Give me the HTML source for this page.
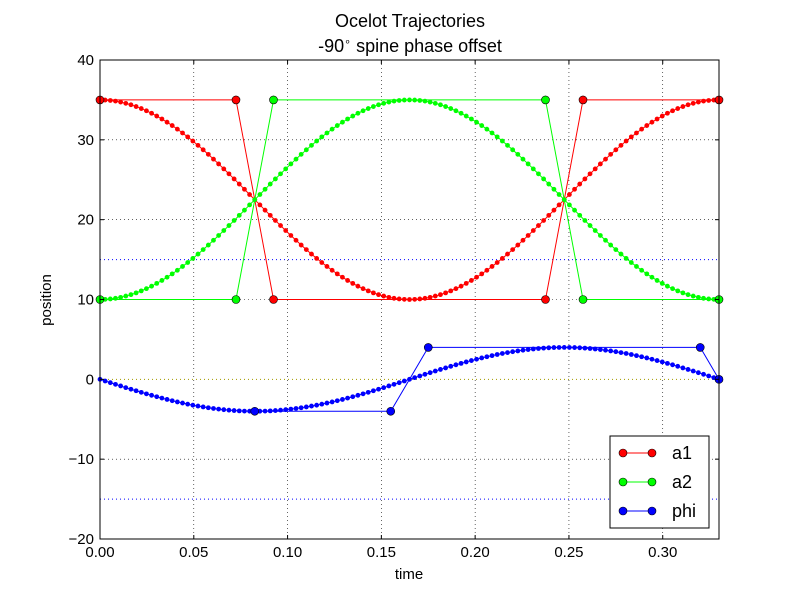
<!DOCTYPE html>
<html><head><meta charset="utf-8"><style>
body{margin:0;background:#fff;}
svg{display:block;font-family:"Liberation Sans",sans-serif;}
</style></head><body>
<svg id="chart" width="800" height="600"></svg>
<script>
const xTicks=[0,0.05,0.10,0.15,0.20,0.25,0.30];
const xTickLabels=["0.00","0.05","0.10","0.15","0.20","0.25","0.30"];
const yTicks=[-20,-10,0,10,20,30,40];
const yTickLabels=["\u221220","\u221210","0","10","20","30","40"];
const dt=0.00275;
const a1Curve=[35,34.98,34.93,34.85,34.73,34.57,34.39,34.17,33.92,33.64,33.33,32.98,32.61,32.21,31.79,31.34,30.86,30.37,29.85,29.31,28.75,28.18,27.58,26.98,26.36,25.74,25.10,24.46,23.81,23.15,22.5,21.85,21.19,20.54,19.90,19.26,18.64,18.02,17.42,16.82,16.25,15.69,15.15,14.63,14.14,13.66,13.21,12.79,12.39,12.02,11.67,11.36,11.08,10.83,10.61,10.43,10.27,10.15,10.07,10.02,10,
10.02,10.07,10.15,10.27,10.43,10.61,10.83,11.08,11.36,11.67,12.02,12.39,12.79,13.21,13.66,14.14,14.63,15.15,15.69,16.25,16.82,17.42,18.02,18.64,19.26,19.90,20.54,21.19,21.85,22.5,23.15,23.81,24.46,25.10,25.74,26.36,26.98,27.58,28.18,28.75,29.31,29.85,30.37,30.86,31.34,31.79,32.21,32.61,32.98,33.33,33.64,33.92,34.17,34.39,34.57,34.73,34.85,34.93,34.98,35];
const a2Curve=[10,10.02,10.07,10.15,10.27,10.43,10.61,10.83,11.08,11.36,11.67,12.02,12.39,12.79,13.21,13.66,14.14,14.63,15.15,15.69,16.25,16.82,17.42,18.02,18.64,19.26,19.90,20.54,21.19,21.85,22.5,23.15,23.81,24.46,25.10,25.74,26.36,26.98,27.58,28.18,28.75,29.31,29.85,30.37,30.86,31.34,31.79,32.21,32.61,32.98,33.33,33.64,33.92,34.17,34.39,34.57,34.73,34.85,34.93,34.98,35,
34.98,34.93,34.85,34.73,34.57,34.39,34.17,33.92,33.64,33.33,32.98,32.61,32.21,31.79,31.34,30.86,30.37,29.85,29.31,28.75,28.18,27.58,26.98,26.36,25.74,25.10,24.46,23.81,23.15,22.5,21.85,21.19,20.54,19.90,19.26,18.64,18.02,17.42,16.82,16.25,15.69,15.15,14.63,14.14,13.66,13.21,12.79,12.39,12.02,11.67,11.36,11.08,10.83,10.61,10.43,10.27,10.15,10.07,10.02,10];
const phiCurve=[0,-0.21,-0.42,-0.63,-0.83,-1.04,-1.24,-1.43,-1.63,-1.82,-2,-2.18,-2.35,-2.52,-2.68,-2.83,-2.97,-3.11,-3.24,-3.35,-3.46,-3.56,-3.65,-3.73,-3.80,-3.86,-3.91,-3.95,-3.98,-3.99,-4,
-3.99,-3.98,-3.95,-3.91,-3.86,-3.80,-3.73,-3.65,-3.56,-3.46,-3.35,-3.24,-3.11,-2.97,-2.83,-2.68,-2.52,-2.35,-2.18,-2,-1.82,-1.63,-1.43,-1.24,-1.04,-0.83,-0.63,-0.42,-0.21,0,
0.21,0.42,0.63,0.83,1.04,1.24,1.43,1.63,1.82,2,2.18,2.35,2.52,2.68,2.83,2.97,3.11,3.24,3.35,3.46,3.56,3.65,3.73,3.80,3.86,3.91,3.95,3.98,3.99,4,
3.99,3.98,3.95,3.91,3.86,3.80,3.73,3.65,3.56,3.46,3.35,3.24,3.11,2.97,2.83,2.68,2.52,2.35,2.18,2,1.82,1.63,1.43,1.24,1.04,0.83,0.63,0.42,0.21,0];
const a1KeyT=[0,0.0725,0.0925,0.2375,0.2575,0.33];
const a1KeyV=[35,35,10,10,35,35];
const a2KeyT=[0,0.0725,0.0925,0.2375,0.2575,0.33];
const a2KeyV=[10,10,35,35,10,10];
const phiKeyT=[0.0825,0.155,0.175,0.32,0.33];
const phiKeyV=[-4,-4,4,4,0];
const limitLines=[15,-15];

const NS="http://www.w3.org/2000/svg";
const svg=document.getElementById('chart');
const L=100,R=719,T=60,B=539;
const X=t=>L+(t-0)/(0.33)*(R-L);
const Y=v=>T+(40-v)/60*(B-T);
function mk(tag,attrs,parent){const e=document.createElementNS(NS,tag);for(const k in attrs)e.setAttribute(k,attrs[k]);(parent||svg).appendChild(e);return e;}

const grid=mk('g',{});


xTicks.forEach(t=>mk('line',{x1:X(t),x2:X(t),y1:T,y2:B,stroke:'#000','stroke-width':0.6,'stroke-dasharray':'1,3'},grid));
yTicks.forEach(v=>mk('line',{x1:L,x2:R,y1:Y(v),y2:Y(v),stroke:'#000','stroke-width':0.6,'stroke-dasharray':'1,3'},grid));
limitLines.forEach(v=>{const l=mk('line',{x1:L,x2:R,y1:Y(v),y2:Y(v),stroke:'#00f','stroke-width':1,'stroke-dasharray':'1,3'});

});
const zl=mk('line',{x1:L,x2:R,y1:Y(0),y2:Y(0),stroke:'#aaa000','stroke-width':1,'stroke-dasharray':'1,3'});



function series(name,color,curve,kt,kv){
  const g=mk('g',{});
  
  
  mk('polyline',{points:curve.map((v,i)=>X(i*dt)+','+Y(v)).join(' '),fill:'none',stroke:color,'stroke-width':1},g);
  curve.forEach((v,i)=>{const c=mk('circle',{cx:X(i*dt),cy:Y(v),r:2.4,fill:color},g);
    
    });
  mk('polyline',{points:kt.map((t,i)=>X(t)+','+Y(kv[i])).join(' '),fill:'none',stroke:color,'stroke-width':1},g);
  kt.forEach((t,i)=>{const c=mk('circle',{cx:X(t),cy:Y(kv[i]),r:4,fill:color,stroke:'#000','stroke-width':0.6},g);
    
    });
}
series('a1','#ff0000',a1Curve,a1KeyT,a1KeyV);
series('a2','#00ff00',a2Curve,a2KeyT,a2KeyV);
series('phi','#0000ff',phiCurve,phiKeyT,phiKeyV);

const fr=mk('rect',{x:L,y:T,width:R-L,height:B-T,fill:'none',stroke:'#000','stroke-width':1});


xTicks.forEach((t,i)=>{mk('line',{x1:X(t),x2:X(t),y1:B,y2:B-4,stroke:'#000'});mk('line',{x1:X(t),x2:X(t),y1:T,y2:T+4,stroke:'#000'});
  const tx=mk('text',{x:X(t),y:B+18,'font-size':15,'text-anchor':'middle'});tx.textContent=xTickLabels[i];
  
  });
yTicks.forEach((v,i)=>{mk('line',{x1:L,x2:L+4,y1:Y(v),y2:Y(v),stroke:'#000'});mk('line',{x1:R,x2:R-4,y1:Y(v),y2:Y(v),stroke:'#000'});
  const tx=mk('text',{x:L-6,y:Y(v)+5,'font-size':15,'text-anchor':'end'});tx.textContent=yTickLabels[i];
  
  });

const xt=mk('text',{x:409,y:579,'font-size':15,'text-anchor':'middle'});xt.textContent='time';


const yt=mk('text',{x:51,y:300,'font-size':15,'text-anchor':'middle',transform:'rotate(-90 51 300)'});yt.textContent='position';


const t1=mk('text',{x:410,y:27,'font-size':18,'text-anchor':'middle'});t1.textContent='Ocelot Trajectories';


const t2=mk('text',{x:410,y:52,'font-size':18,'text-anchor':'middle'});t2.innerHTML='-90<tspan font-size="11" dy="-7">\u2218</tspan><tspan dy="7"> spine phase offset</tspan>';



const lg=mk('g',{});


mk('rect',{x:610,y:436,width:99,height:92,fill:'#fff',stroke:'#000','stroke-width':1},lg);
[['a1','#ff0000'],['a2','#00ff00'],['phi','#0000ff']].forEach((s,i)=>{
  const y=453+i*29;
  const e=mk('g',{},lg);
  
  
  mk('line',{x1:623,x2:652,y1:y,y2:y,stroke:s[1],'stroke-width':1},e);
  mk('circle',{cx:623,cy:y,r:4,fill:s[1],stroke:'#000','stroke-width':0.6},e);
  mk('circle',{cx:652,cy:y,r:4,fill:s[1],stroke:'#000','stroke-width':0.6},e);
  const tx=mk('text',{x:672,y:y+6,'font-size':18},e);tx.textContent=s[0];
});
</script>
</body></html>
